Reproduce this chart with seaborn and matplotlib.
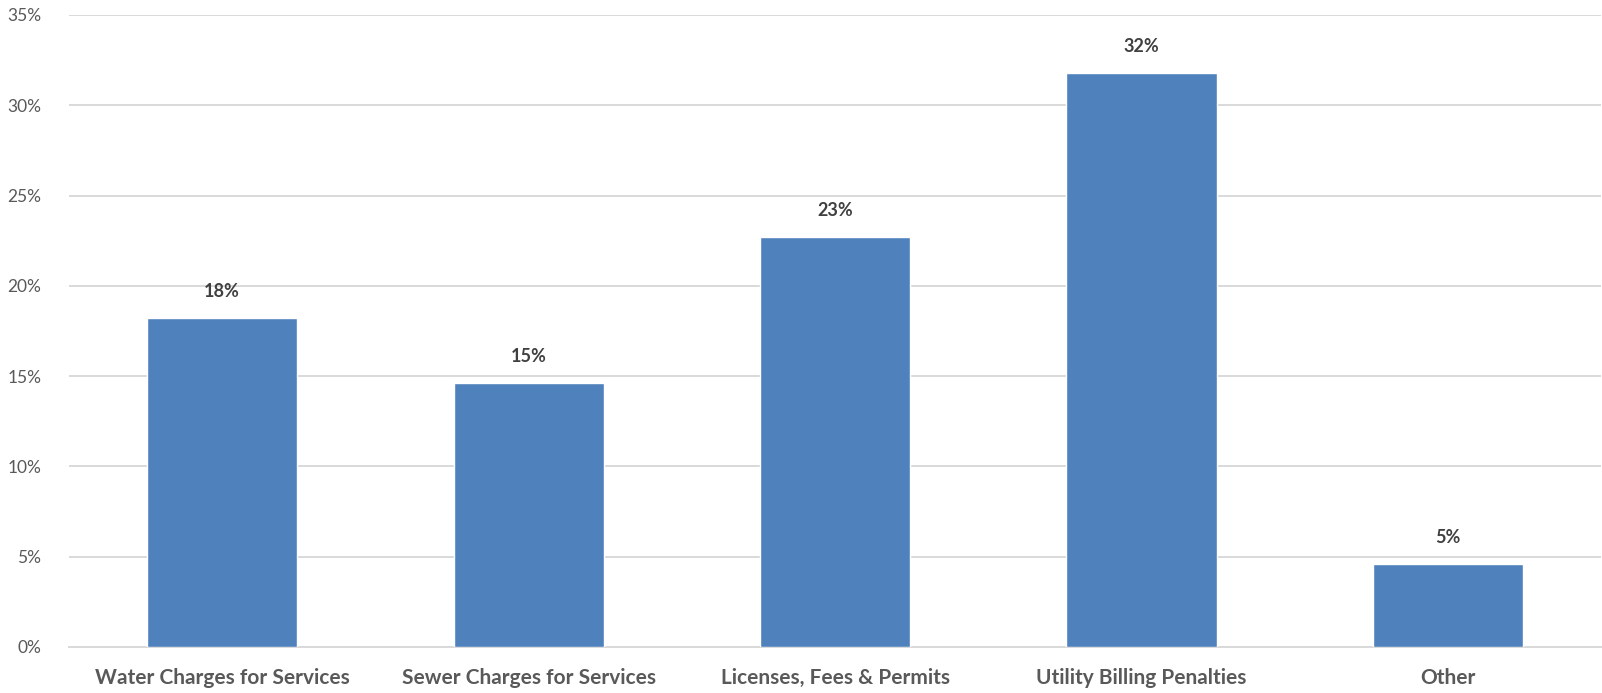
import matplotlib
matplotlib.use("Agg")
import matplotlib.pyplot as plt
import matplotlib.ticker as mticker
import seaborn as sns
import pandas as pd

categories = [
    "Water Charges for Services",
    "Sewer Charges for Services",
    "Licenses, Fees & Permits",
    "Utility Billing Penalties",
    "Other",
]
shares = [18.2, 14.6, 22.7, 31.8, 4.6]
y_ticks = [0, 5, 10, 15, 20, 25, 30, 35]

bar_color = "#4F81BD"
grid_color = "#D9D9D9"
text_color = "#595959"
label_color = "#404040"

sns.set_theme(style="white")
plt.rcParams["font.family"] = ["Lato", "DejaVu Sans"]

df = pd.DataFrame({"category": categories, "share": shares})

fig = plt.figure(figsize=(16.02, 6.93), dpi=100)
ax = fig.add_axes([0.0431, 0.0664, 0.9563, 0.912])

sns.barplot(data=df, x="category", y="share", color=bar_color,
            width=0.49, saturation=1, ax=ax, zorder=3)

ax.set_ylim(0, 35)
ax.set_xlim(-0.5, len(categories) - 0.5)
ax.set_yticks(y_ticks)
ax.yaxis.set_major_formatter(mticker.FuncFormatter(lambda v, _: f"{v:.0f}%"))
ax.yaxis.grid(True, color=grid_color, linewidth=1.4, zorder=0)
ax.xaxis.grid(False)

for side in ("top", "right", "left"):
    ax.spines[side].set_visible(False)
ax.spines["bottom"].set_color(grid_color)
ax.spines["bottom"].set_linewidth(1.4)

ax.tick_params(axis="y", length=0, pad=20, labelsize=12.5, labelcolor=text_color)
ax.tick_params(axis="x", which="major", length=0, pad=15, labelsize=15,
               labelcolor=text_color)
for lbl in ax.get_xticklabels():
    lbl.set_fontweight("bold")

# small tick marks between categories
ax.set_xticks([i - 0.5 for i in range(len(categories) + 1)], minor=True)
ax.tick_params(axis="x", which="minor", length=6, width=1.4, color=grid_color)

ax.set_xlabel("")
ax.set_ylabel("")

for container in ax.containers:
    ax.bar_label(container, labels=[f"{v:.0f}%" for v in container.datavalues],
                 padding=13, fontsize=13, fontweight="bold", color=label_color)

fig.savefig("out.png", dpi=100, facecolor="white")
